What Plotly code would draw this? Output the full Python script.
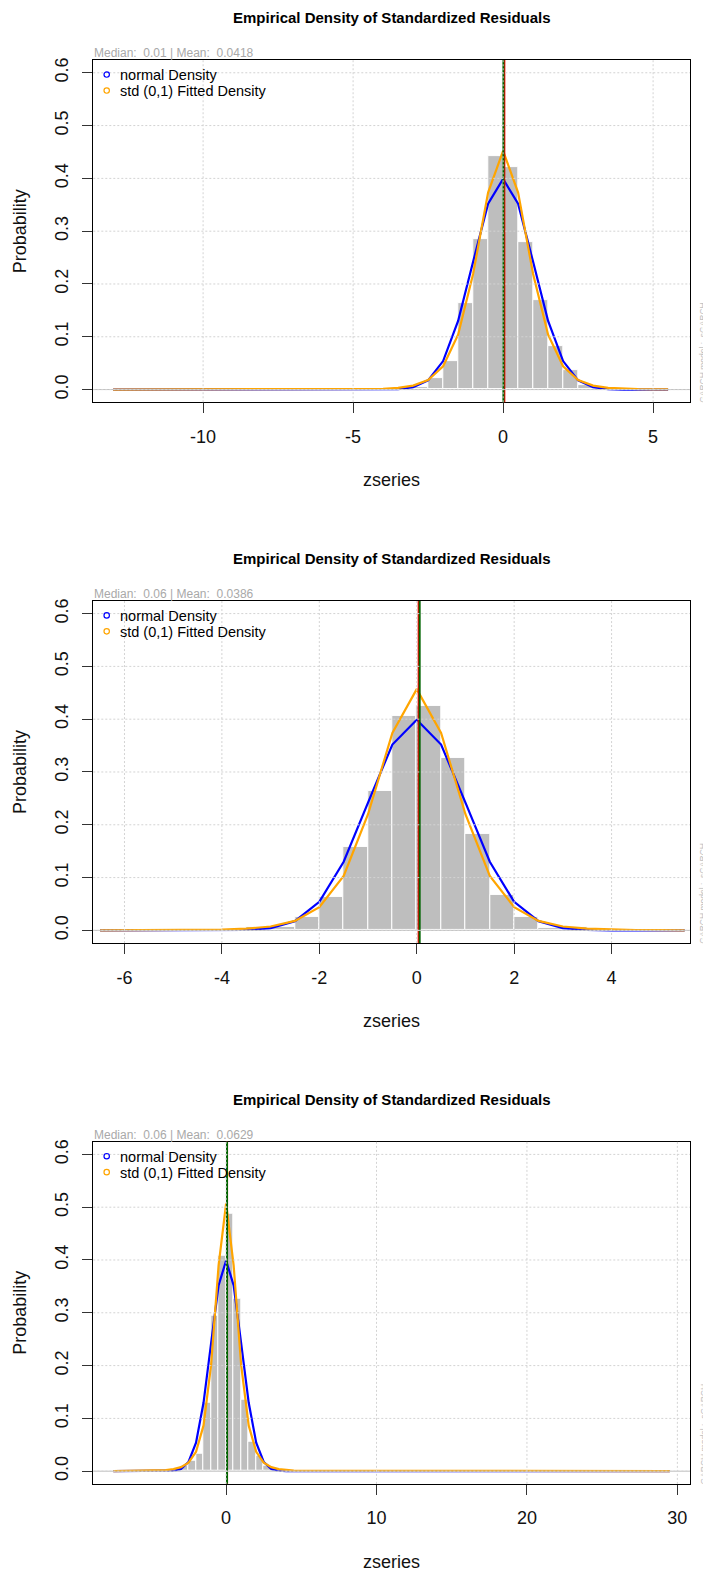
import plotly.graph_objects as go

# page body has an 8px margin: the figure is sized so it fills the 711x1571 window
PAGE_W, PAGE_H = 711, 1571
OFF = 8
W, H = PAGE_W - OFF, PAGE_H - OFF
FONT = "Liberation Sans, Arial, sans-serif"

# ---------------- data ----------------
panel_titles = ["Empirical Density of Standardized Residuals"] * 3
median_vals = [0.01, 0.06, 0.06]
mean_vals = [0.0418, 0.0386, 0.0629]
x_ticks = [[-10, -5, 0, 5], [-6, -4, -2, 0, 2, 4], [0, 10, 20, 30]]
x_ranges = [[-13.66, 6.23], [-6.64, 5.61], [-8.83, 30.84]]
y_ticks = [0.0, 0.1, 0.2, 0.3, 0.4, 0.5, 0.6]
y_ticktext = ["0.0", "0.1", "0.2", "0.3", "0.4", "0.5", "0.6"]

# histogram bins (centres of 0.5-wide bins) and densities
bin_width = 0.5
hist_x_A = [-12.75, -3.75, -3.25, -2.75, -2.25, -1.75, -1.25, -0.75, -0.25,
            0.25, 0.75, 1.25, 1.75, 2.25, 2.75, 3.25, 3.75]
hist_y_A = [0.001, 0.001, 0.002, 0.004, 0.022, 0.053, 0.163, 0.285, 0.443,
            0.422, 0.279, 0.169, 0.083, 0.036, 0.009, 0.003, 0.001]
hist_x_B = [-3.25, -2.75, -2.25, -1.75, -1.25, -0.75, -0.25,
            0.25, 0.75, 1.25, 1.75, 2.25, 2.75, 3.25]
hist_y_B = [0.006, 0.006, 0.025, 0.064, 0.159, 0.265, 0.406,
            0.425, 0.326, 0.182, 0.068, 0.025, 0.005, 0.006]
hist_x_C = [-3.25, -2.75, -2.25, -1.75, -1.25, -0.75, -0.25,
            0.25, 0.75, 1.25, 1.75, 2.25, 2.75, 3.25]
hist_y_C = [0.004, 0.010, 0.020, 0.033, 0.129, 0.294, 0.408,
            0.488, 0.326, 0.135, 0.055, 0.030, 0.011, 0.004]

# density curves evaluated at the break points
line_x_A = [-13.0, -5.0, -4.5, -4.0, -3.5, -3.0, -2.5, -2.0, -1.5, -1.0, -0.5, 0.0,
            0.5, 1.0, 1.5, 2.0, 2.5, 3.0, 3.5, 4.0, 4.5, 5.0, 5.5]
norm_A = [0.0, 0.0, 0.0, 0.0001, 0.0009, 0.0044, 0.0175, 0.054, 0.13, 0.242, 0.352, 0.399,
          0.352, 0.242, 0.13, 0.054, 0.0175, 0.0044, 0.0009, 0.0001, 0.0, 0.0, 0.0]
std_A = [0.0, 0.0004, 0.0007, 0.0015, 0.0033, 0.0075, 0.018, 0.044, 0.104, 0.219, 0.373, 0.452,
         0.373, 0.219, 0.104, 0.044, 0.018, 0.0075, 0.0033, 0.0015, 0.0007, 0.0004, 0.0002]

line_x_B = [-6.5, -6.0, -5.5, -5.0, -4.5, -4.0, -3.5, -3.0, -2.5, -2.0, -1.5, -1.0, -0.5, 0.0,
            0.5, 1.0, 1.5, 2.0, 2.5, 3.0, 3.5, 4.0, 4.5, 5.0, 5.5]
norm_B = [0.0, 0.0, 0.0, 0.0, 0.0, 0.0001, 0.0009, 0.0044, 0.0175, 0.054, 0.13, 0.242, 0.352, 0.399,
          0.352, 0.242, 0.13, 0.054, 0.0175, 0.0044, 0.0009, 0.0001, 0.0, 0.0, 0.0]
std_B = [0.0001, 0.0001, 0.0002, 0.0004, 0.0007, 0.0015, 0.0032, 0.0074, 0.018, 0.044, 0.103, 0.22, 0.374, 0.457,
         0.374, 0.22, 0.103, 0.044, 0.018, 0.0074, 0.0032, 0.0015, 0.0007, 0.0004, 0.0002]

line_x_C = [-7.5, -4.5, -4.0, -3.5, -3.0, -2.5, -2.0, -1.5, -1.0, -0.5, 0.0,
            0.5, 1.0, 1.5, 2.0, 2.5, 3.0, 3.5, 4.0, 4.5, 29.5]
norm_C = [0.0, 0.0, 0.0001, 0.0009, 0.0044, 0.0175, 0.054, 0.13, 0.242, 0.352, 0.399,
          0.352, 0.242, 0.13, 0.054, 0.0175, 0.0044, 0.0009, 0.0001, 0.0, 0.0]
std_C = [0.0001, 0.0011, 0.0021, 0.0038, 0.0076, 0.0162, 0.0366, 0.0867, 0.201, 0.39, 0.507,
         0.39, 0.201, 0.0867, 0.0366, 0.0162, 0.0076, 0.0038, 0.0021, 0.0011, 0.0]

hists = [(hist_x_A, hist_y_A), (hist_x_B, hist_y_B), (hist_x_C, hist_y_C)]
curves = [(line_x_A, norm_A, std_A), (line_x_B, norm_B, std_B), (line_x_C, norm_C, std_C)]

legend_labels = ["normal Density", "std (0,1) Fitted Density"]
legend_colors = ["blue", "orange"]
side_text = "GARCH model :  sGARCH"

# ---------------- layout geometry (page pixels) ----------------
PERIOD = 541.85
BOX_TOP, BOX_BOT = 57.2, 400.0
BOX_L, BOX_R = 93.3, 690.0


def py(px):
    return 1 - (px - OFF) / H


def pxx(px):
    return (px - OFF) / W


fig = go.Figure()
shapes = []
annotations = []
layout = dict(
    width=W, height=H, autosize=False,
    margin=dict(l=0, r=0, t=0, b=0),
    paper_bgcolor="white", plot_bgcolor="white",
    showlegend=False, bargap=0, barmode="overlay",
    font=dict(family=FONT, color="black"),
)

for i in range(3):
    off = i * PERIOD
    sfx = "" if i == 0 else str(i + 1)
    xa, ya = "x" + sfx, "y" + sfx
    hx, hy = hists[i]
    lx, ln, ls = curves[i]

    fig.add_trace(go.Bar(x=hx, y=hy, width=[bin_width] * len(hx),
                         marker=dict(color="#BEBEBE", line=dict(color="white", width=1)),
                         xaxis=xa, yaxis=ya, hoverinfo="skip"))
    fig.add_trace(go.Scatter(x=lx, y=ln, mode="lines", line=dict(color="blue", width=2.2),
                             xaxis=xa, yaxis=ya, hoverinfo="skip"))
    fig.add_trace(go.Scatter(x=lx, y=ls, mode="lines", line=dict(color="orange", width=2.2),
                             xaxis=xa, yaxis=ya, hoverinfo="skip"))

    layout["xaxis" + sfx] = dict(
        domain=[pxx(BOX_L), pxx(BOX_R)], range=x_ranges[i], anchor=ya,
        showline=True, linecolor="black", linewidth=1, mirror=True,
        ticks="outside", ticklen=10, tickwidth=1, tickcolor="#333333",
        tickvals=x_ticks[i], ticktext=[str(t) for t in x_ticks[i]],
        tickfont=dict(size=18, family=FONT, color="#111111"),
        showgrid=False, zeroline=False, ticklabelstandoff=8,
    )
    layout["yaxis" + sfx] = dict(
        domain=[py(BOX_BOT + off), py(BOX_TOP + off)], range=[-0.024, 0.624], anchor=xa,
        showline=True, linecolor="black", linewidth=1, mirror=True,
        ticks="outside", ticklen=10, tickwidth=1, tickcolor="#333333",
        tickvals=y_ticks, ticktext=y_ticktext, tickangle=-90,
        tickfont=dict(size=18, family=FONT, color="#111111"),
        showgrid=False, zeroline=False, ticklabelstandoff=7,
    )

    # mean / median vertical lines
    shapes.append(dict(type="line", xref=xa, yref=ya + " domain", x0=mean_vals[i], x1=mean_vals[i],
                       y0=0, y1=1, line=dict(color="red", width=2), layer="above"))
    shapes.append(dict(type="line", xref=xa, yref=ya + " domain", x0=median_vals[i], x1=median_vals[i],
                       y0=0, y1=1, line=dict(color="darkgreen", width=2), layer="above"))
    # horizontal zero line
    shapes.append(dict(type="line", xref=xa + " domain", yref=ya, x0=0, x1=1, y0=0, y1=0,
                       line=dict(color="#BEBEBE", width=1), layer="above"))
    # grid (drawn last, above everything)
    for t in x_ticks[i]:
        shapes.append(dict(type="line", xref=xa, yref=ya + " domain", x0=t, x1=t, y0=0, y1=1,
                           line=dict(color="#D3D3D3", width=1, dash="2px,2px"), layer="above"))
    for t in y_ticks:
        shapes.append(dict(type="line", xref=xa + " domain", yref=ya, x0=0, x1=1, y0=t, y1=t,
                           line=dict(color="#D3D3D3", width=1, dash="2px,2px"), layer="above"))

    # title
    annotations.append(dict(text="<b>" + panel_titles[i] + "</b>", xref="paper", yref="paper",
                            x=pxx((BOX_L + BOX_R) / 2), y=py(15 + off), xanchor="center", yanchor="middle",
                            showarrow=False, font=dict(size=15, family=FONT, color="black")))
    # median / mean text
    txt = "Median:  %s | Mean:  %s" % (format(median_vals[i], ".2f"), format(mean_vals[i], "g"))
    annotations.append(dict(text=txt, xref="paper", yref="paper", x=pxx(BOX_L - 1), y=py(50 + off),
                            xanchor="left", yanchor="middle", showarrow=False,
                            font=dict(size=12, family=FONT, color="#A9A9A9")))
    # legend
    for k in range(2):
        yy = 71.7 + 16 * k + off
        shapes.append(dict(type="circle", xref="paper", yref="paper",
                           x0=pxx(106.7 - 2.7), x1=pxx(106.7 + 2.7), y0=py(yy + 2.7), y1=py(yy - 2.7),
                           line=dict(color=legend_colors[k], width=1.2), layer="above"))
        annotations.append(dict(text=legend_labels[k], xref="paper", yref="paper", x=pxx(118),
                                y=py(yy + 0.5), xanchor="left", yanchor="middle", showarrow=False,
                                font=dict(size=14.5, family=FONT, color="black")))
    # axis titles
    annotations.append(dict(text="zseries", xref="paper", yref="paper", x=pxx((BOX_L + BOX_R) / 2),
                            y=py(478 + off), xanchor="center", yanchor="middle", showarrow=False,
                            font=dict(size=18, family=FONT, color="#111111")))
    annotations.append(dict(text="Probability", xref="paper", yref="paper", x=pxx(20),
                            y=py((BOX_TOP + BOX_BOT) / 2 + off), xanchor="center", yanchor="middle",
                            textangle=-90, showarrow=False,
                            font=dict(size=18, family=FONT, color="#111111")))
    # side text
    annotations.append(dict(text=side_text, xref="paper", yref="paper", x=pxx(703.5),
                            y=py(BOX_BOT - 50 + off), xanchor="center", yanchor="middle",
                            textangle=-90, showarrow=False,
                            font=dict(size=8.5, family=FONT, color="#BEBEBE")))

layout["shapes"] = shapes
layout["annotations"] = annotations
fig.update_layout(**layout)
fig.write_html("out.html")
